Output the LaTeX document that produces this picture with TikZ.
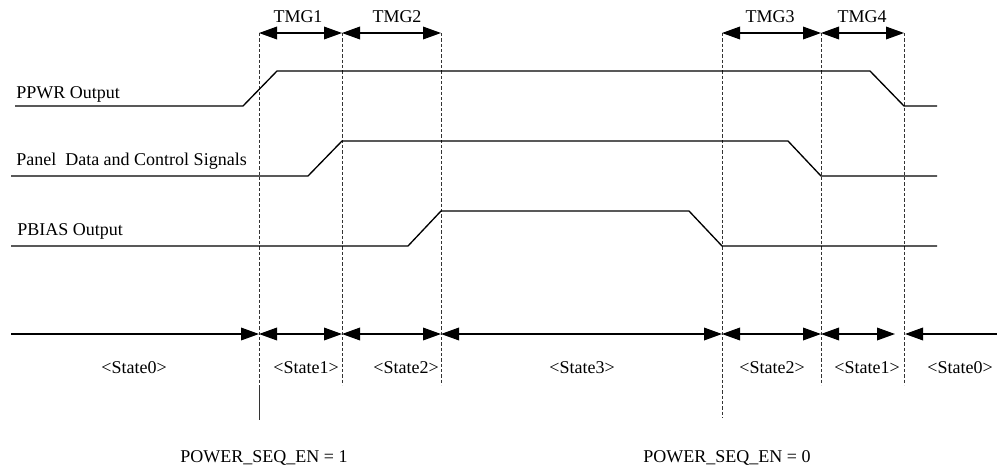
\documentclass[tikz,border=0pt]{standalone}
\usepackage{fontspec}
\setmainfont{Liberation Serif}
\usetikzlibrary{arrows.meta}
\begin{document}
\begin{tikzpicture}[x=0.75pt,y=-0.75pt,
  sig/.style={line width=1pt,line join=miter},
  guide/.style={line width=0.7pt,dash pattern=on 2.6pt off 1.4pt,black!80},
  solidguide/.style={line width=0.7pt,black!80},
  tip/.style={line width=1pt,-{Triangle[length=13.5pt,width=9.5pt]}},
  both/.style={line width=1pt,{Triangle[length=13.5pt,width=9.5pt]}-{Triangle[length=13.5pt,width=9.5pt]}},
  lab/.style={font=\fontsize{13.5pt}{16pt}\selectfont,inner sep=0pt}]
\useasboundingbox (0,0) rectangle (997,468);

% guide line tops and bottoms
\coordinate (g1t) at (259,33);  \coordinate (g1m) at (259,385); \coordinate (g1b) at (259,420);
\coordinate (g2t) at (342,33);  \coordinate (g2b) at (342,385);
\coordinate (g3t) at (441,33);  \coordinate (g3b) at (441,385);
\coordinate (g4t) at (722,33);  \coordinate (g4b) at (722,418);
\coordinate (g5t) at (821,33);  \coordinate (g5b) at (821,385);
\coordinate (g6t) at (904,33);  \coordinate (g6b) at (904,385);

\draw[guide] (g1t) -- (g1m);
\draw[solidguide] (g1m) -- (g1b);
\draw[guide] (g2t) -- (g2b);
\draw[guide] (g3t) -- (g3b);
\draw[guide] (g4t) -- (g4b);
\draw[guide] (g5t) -- (g5b);
\draw[guide] (g6t) -- (g6b);

% timing arrows
\draw[both] (g1t) -- (g2t);
\draw[both] (g2t) -- (g3t);
\draw[both] (g4t) -- (g5t);
\draw[both] (g5t) -- (g6t);
\node[lab,anchor=base] (tmg1) at (298,22) {TMG1};
\node[lab,anchor=base] (tmg2) at (397,22) {TMG2};
\node[lab,anchor=base] (tmg3) at (770,22) {TMG3};
\node[lab,anchor=base] (tmg4) at (862,22) {TMG4};

% signals
\node[lab,anchor=base west] (ppwr) at (16,98) {PPWR Output};
\draw[sig] (15,106) -- (243,106) -- (277,71) -- (870,71) -- (904,106) -- (937,106);

\node[lab,anchor=base west] (panel) at (16,165) {Panel\ \ Data and Control Signals};
\draw[sig] (11,176) -- (308,176) -- (342,141) -- (788,141) -- (821,176) -- (937,176);

\node[lab,anchor=base west] (pbias) at (17,235) {PBIAS Output};
\draw[sig] (11,246) -- (408,246) -- (441,211) -- (689,211) -- (722,246) -- (937,246);

% state time line
\coordinate (s0) at (11,334);
\coordinate (s1) at (259,334);
\coordinate (s2) at (342,334);
\coordinate (s3) at (441,334);
\coordinate (s4) at (722,334);
\coordinate (s5) at (821,334);
\coordinate (s6) at (895,334);
\coordinate (s7) at (905,334);
\coordinate (s8) at (997,334);
\draw[tip] (s0) -- (s1);
\draw[both] (s1) -- (s2);
\draw[both] (s2) -- (s3);
\draw[both] (s3) -- (s4);
\draw[both] (s4) -- (s5);
\draw[both] (s5) -- (s6);
\draw[tip] (s8) -- (s7);

\node[lab,anchor=base] (st0a) at (134,373) {<State0>};
\node[lab,anchor=base] (st1a) at (306,373) {<State1>};
\node[lab,anchor=base] (st2a) at (406,373) {<State2>};
\node[lab,anchor=base] (st3)  at (582,373) {<State3>};
\node[lab,anchor=base] (st2b) at (772,373) {<State2>};
\node[lab,anchor=base] (st1b) at (867,373) {<State1>};
\node[lab,anchor=base] (st0b) at (960,373) {<State0>};

\node[lab,anchor=base] (en1) at (264,462) {POWER\_SEQ\_EN = 1};
\node[lab,anchor=base] (en0) at (727,462) {POWER\_SEQ\_EN = 0};
\end{tikzpicture}
\end{document}
